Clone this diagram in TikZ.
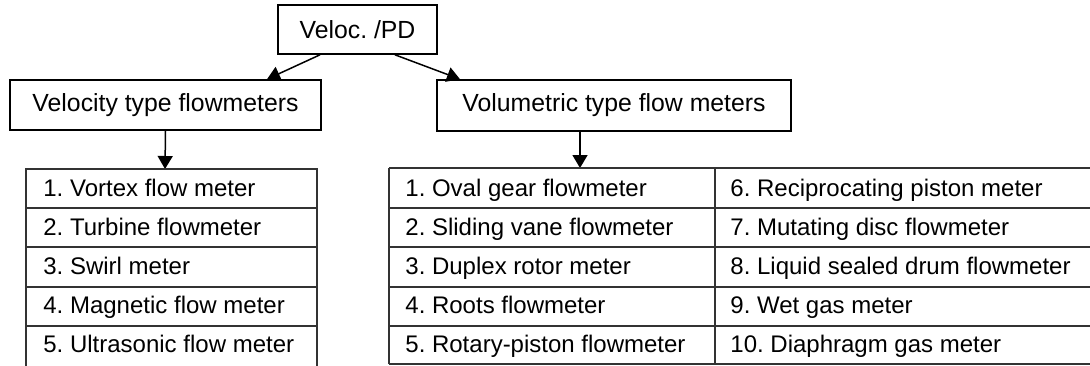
\documentclass[tikz,border=0pt]{standalone}
\usepackage{fontspec}
\setmainfont{Liberation Sans}
\usetikzlibrary{arrows.meta,positioning}
\frenchspacing

\tikzset{
  headbox/.style={draw, line width=0.8pt, inner sep=0pt, font=\fontsize{12.4}{14}\selectfont},
  entry/.style={anchor=base west, inner sep=0pt, font=\fontsize{12}{14}\selectfont},
  link/.style={line width=0.75pt, -{Triangle[length=6.5pt,width=7.5pt]}},
  rule/.style={line width=0.7pt, draw=black!80}
}

\begin{document}
\begin{tikzpicture}[x=0.5pt,y=-0.5pt]
\useasboundingbox (0,0) rectangle (1090,365);

% Top box and the two groups
\node[headbox, minimum width=79.5pt, minimum height=24.5pt] (pd) at (357.5,29.5) {Veloc. /PD};
\node[headbox, minimum width=155.5pt, minimum height=25pt] (vel) at (165.5,105) {Velocity type flowmeters};
\node[headbox, minimum width=177pt, minimum height=25.5pt] (vol) at (614,105.5) {Volumetric type flow meters};

\draw[link] (pd.south -| 320,0) -- (vel.north -| 267,0);
\draw[link] (pd.south -| 395,0) -- (vol.north -| 460,0);

% Table tops
\coordinate (lefttop) at (165,169);
\coordinate (righttop) at (580,168);
\draw[link] (vel.south) -- (lefttop);
\draw[link] (vol.south -| righttop) -- (righttop);

% Left table (open at the bottom)
\draw[rule] (26,367) -- (26,169) -- (317,169) -- (317,367);
\foreach \y in {208,247,287,326}
  \draw[rule] (26,\y) -- (317,\y);

% Right table (runs off to the right)
\draw[rule] (389,364) -- (389,168);
\draw[rule] (715,364) -- (715,168);
\foreach \y in {168,208,247,287,326,364}
  \draw[rule] (389,\y) -- (1092,\y);

% Entries
\foreach \t [count=\i] in {1. Vortex flow meter, 2. Turbine flowmeter, 3. Swirl meter,
    4. Magnetic flow meter, 5. Ultrasonic flow meter}
  \node[entry] (v\i) at (43,{196+39.2*(\i-1)}) {\t};

\foreach \t [count=\i] in {1. Oval gear flowmeter, 2. Sliding vane flowmeter, 3. Duplex rotor meter,
    4. Roots flowmeter, 5. Rotary-piston flowmeter}
  \node[entry] (m\i) at (405,{196+39.2*(\i-1)}) {\t};

\foreach \t [count=\i] in {6. Reciprocating piston meter, 7. Mutating disc flowmeter,
    8. Liquid sealed drum flowmeter, 9. Wet gas meter, 10. Diaphragm gas meter}
  \node[entry] (n\i) at (730,{196+39.2*(\i-1)}) {\t};

\end{tikzpicture}
\end{document}
